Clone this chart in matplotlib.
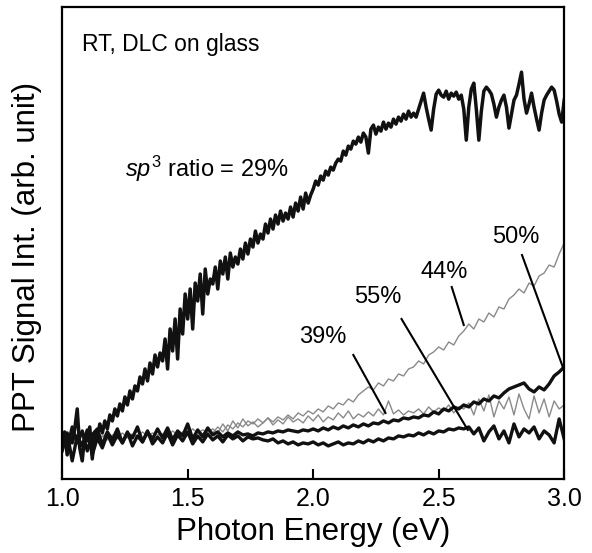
import numpy as np
import matplotlib
matplotlib.use("Agg")
import matplotlib.pyplot as plt

plt.rcParams['font.family'] = ['Liberation Sans', 'DejaVu Sans']
plt.rcParams['mathtext.fontset'] = 'custom'
plt.rcParams['mathtext.rm'] = 'Liberation Sans'
plt.rcParams['mathtext.it'] = 'Liberation Sans:italic'

# photon energy grids (eV)
energy_fine = np.linspace(1.0, 3.0, 201)   # 0.01 eV steps, sp3 = 29 %
energy = np.linspace(1.0, 3.0, 101)        # 0.02 eV steps, other films

# PPT signal (arb. unit)
sig_29 = [
    30, 47, 24, 42, 36, 50, 70, 31, 18, 44,
    38, 52, 20, 47, 41, 55, 46, 58, 50, 64,
    58, 70, 63, 75, 68, 82, 74, 88, 80, 93,
    88, 102, 95, 110, 98, 116, 105, 124, 112, 126,
    118, 140, 110, 150, 128, 160, 120, 170, 145, 185,
    160, 190, 150, 196, 178, 205, 165, 210, 185, 200,
    195, 212, 190, 218, 205, 222, 200, 226, 212, 222,
    215, 230, 220, 236, 225, 240, 232, 248, 236, 245,
    240, 255, 246, 260, 250, 264, 255, 268, 258, 266,
    260, 272, 262, 276, 268, 282, 270, 286, 276, 284,
    290, 298, 294, 303, 299, 308, 304, 312, 309, 316,
    320, 318, 328, 324, 333, 330, 338, 335, 342, 337,
    346, 342, 326, 350, 354, 345, 352, 348, 357, 350,
    356, 352, 360, 355, 362, 358, 365, 360, 368, 362,
    366, 362, 370, 378, 386, 372, 360, 349, 370, 385,
    389, 384, 382, 388, 380, 386, 383, 387, 380, 384,
    370, 339, 372, 390, 396, 370, 339, 368, 388, 392,
    389, 385, 375, 362, 372, 379, 384, 372, 351, 365,
    379, 384, 395, 407, 380, 366, 375, 386, 372, 360,
    349, 366, 379, 384, 388, 392, 389, 378, 365, 357,
    379,
]
sig_55 = [
    28, 46, 18, 43, 33, 49, 24, 41, 31, 45,
    34, 44, 36, 47, 33, 43, 37, 48, 35, 42,
    36, 46, 34, 44, 38, 47, 35, 43, 37, 45,
    39, 43, 37, 44, 40, 43, 38, 42, 40, 41,
    39, 38, 40, 36, 38, 35, 37, 34, 36, 35,
    37, 34, 36, 33, 35, 37, 34, 36, 35, 38,
    36, 39, 37, 40, 38, 41, 40, 43, 42, 44,
    43, 46, 44, 47, 45, 48, 47, 50, 49, 51,
    50, 52, 45, 51, 38, 47, 53, 40, 48, 36,
    55, 42, 50, 46, 52, 40, 48, 44, 36, 60,
    40,
]
sig_50 = [
    46, 30, 52, 36, 48, 28, 44, 50, 34, 47,
    39, 50, 36, 46, 41, 52, 37, 47, 40, 50,
    41, 51, 39, 48, 43, 55, 40, 49, 42, 51,
    44, 47, 42, 46, 43, 47, 44, 45, 43, 46,
    45, 47, 46, 48, 47, 49, 48, 47, 49, 48,
    50, 48, 51, 49, 52, 50, 53, 51, 54, 52,
    55, 53, 56, 55, 58, 56, 59, 58, 61, 60,
    62, 61, 64, 63, 67, 65, 70, 68, 72, 70,
    74, 72, 77, 75, 80, 78, 83, 81, 86, 90,
    92, 94, 96, 90, 87, 92, 89, 95, 103, 107,
    112,
]
sig_44 = [
    40, 46, 36, 44, 41, 48, 38, 45, 42, 47,
    41, 46, 39, 45, 43, 48, 40, 46, 42, 47,
    43, 49, 41, 47, 44, 50, 42, 48, 45, 50,
    46, 52, 47, 54, 50, 56, 52, 58, 55, 60,
    56, 61, 57, 62, 59, 64, 60, 66, 63, 68,
    65, 70, 67, 73, 70, 76, 74, 80, 77, 84,
    88, 92, 89, 96, 93, 100, 98, 105, 103, 110,
    112, 118, 115, 124, 127, 132, 129, 137, 134, 143,
    148, 155, 150, 160, 157, 166, 162, 172, 170, 180,
    184, 190, 186, 196, 193, 203, 206, 214, 212, 225,
    236,
]
sig_39 = [
    42, 36, 47, 40, 44, 38, 46, 41, 43, 39,
    44, 40, 46, 41, 45, 42, 47, 43, 46, 44,
    45, 42, 48, 44, 47, 45, 50, 46, 49, 47,
    50, 46, 55, 48, 58, 51, 60, 53, 57, 52,
    56, 61, 54, 59, 55, 62, 57, 60, 56, 63,
    58, 64, 57, 62, 59, 66, 61, 68, 60, 65,
    62, 67, 63, 70, 64, 78, 65, 69, 64, 68,
    66, 70, 65, 72, 67, 71, 68, 74, 66, 72,
    70, 76, 64, 80, 68, 84, 62, 78, 70, 82,
    64, 85, 70, 60, 83, 66, 80, 62, 78, 70,
    74,
]

fig = plt.figure(figsize=(5.92, 5.53), dpi=100)
ax = fig.add_axes([0.105, 0.134, 0.848, 0.853])

ax.plot(energy, sig_44, color='#8a8a8a', lw=1.0)
ax.plot(energy, sig_39, color='#8a8a8a', lw=1.0)
ax.plot(energy, sig_55, color='#111111', lw=2.4)
ax.plot(energy, sig_50, color='#111111', lw=2.4)
ax.plot(energy_fine, sig_29, color='#111111', lw=2.5)

# leader lines + labels
labels = [
    ('39%', (2.04, 142), (2.16, 124), (2.288, 66)),
    ('55%', (2.256, 182), (2.352, 160), (2.616, 49)),
    ('44%', (2.52, 207), (2.552, 192), (2.60, 154)),
    ('50%', (2.808, 242), (2.832, 224), (2.996, 111)),
]
for txt, pos, p0, p1 in labels:
    ax.text(pos[0], pos[1], txt, fontsize=17, ha='center', va='center')
    ax.plot([p0[0], p1[0]], [p0[1], p1[1]], color='black', lw=1.5)

ax.text(1.25, 302, r'$\mathit{sp}^3$ ratio = 29%', fontsize=17, va='baseline')
ax.text(0.04, 0.907, 'RT, DLC on glass', fontsize=16.5, va='baseline',
        transform=ax.transAxes)

ax.set_xlim(1.0, 3.0)
ax.set_ylim(0, 472)
ax.set_xticks([1.0, 1.5, 2.0, 2.5, 3.0])
ax.set_xticklabels(['1.0', '1.5', '2.0', '2.5', '3.0'])
ax.set_yticks([])
ax.tick_params(axis='x', direction='in', length=7, width=1.5, labelsize=18, pad=6)
for s in ax.spines.values():
    s.set_linewidth(1.6)

ax.set_xlabel('Photon Energy (eV)', fontsize=22.5, labelpad=4)
ax.set_ylabel('PPT Signal Int. (arb. unit)', fontsize=22.5)
ax.yaxis.set_label_coords(-0.04, 0.47)

fig.savefig('out.png', dpi=100)
